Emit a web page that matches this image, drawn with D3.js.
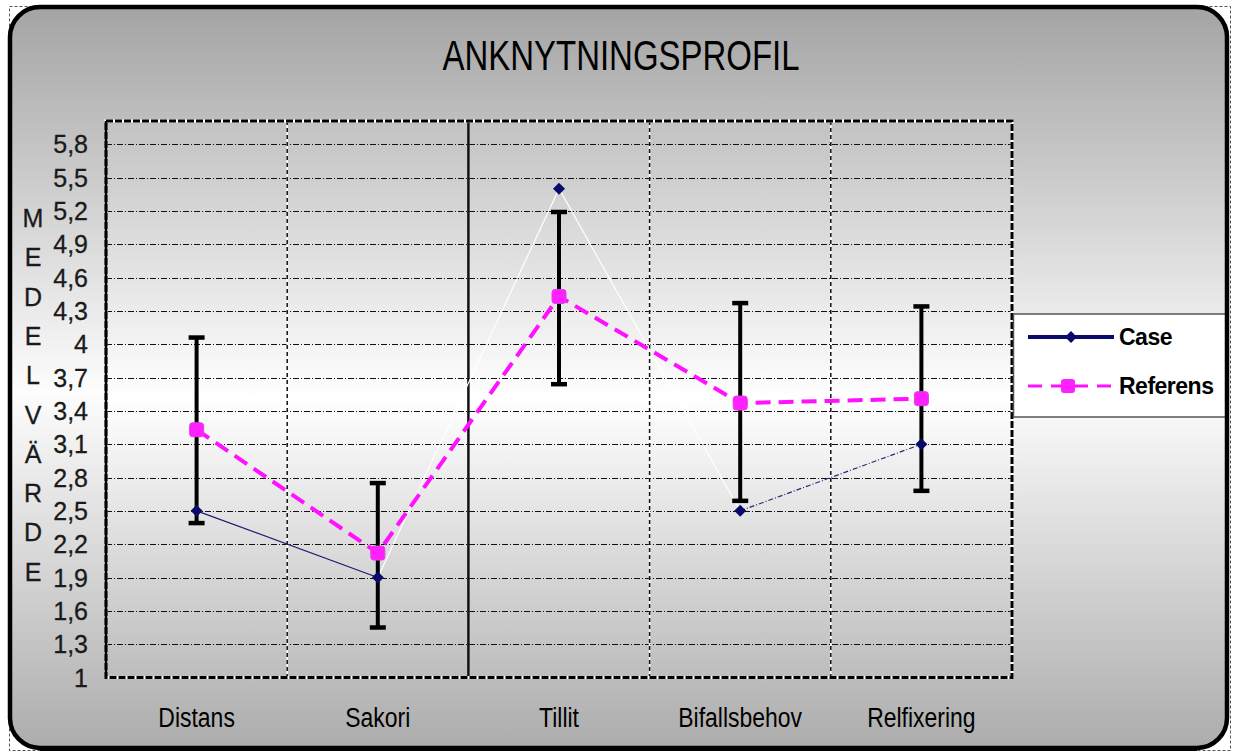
<!DOCTYPE html>
<html>
<head>
<meta charset="utf-8">
<script src="https://cdn.jsdelivr.net/npm/d3@7/dist/d3.min.js"></script>
<style>
  html, body { margin: 0; padding: 0; background: #ffffff; }
  svg { display: block; font-family: "Liberation Sans", Arial, sans-serif; }
</style>
</head>
<body>
<svg id="chart" width="1235" height="753"></svg>
<script>
// ---------- data ----------
const title = "ANKNYTNINGSPROFIL";
const yTitle = "MEDELVÄRDE";
const categories = ["Distans", "Sakori", "Tillit", "Bifallsbehov", "Relfixering"];
const caseValues = [2.5, 1.9, 5.4, 2.5, 3.1];
const referensValues = [3.23, 2.12, 4.43, 3.47, 3.51];
const errorLow = [2.39, 1.45, 3.64, 2.59, 2.68];
const errorHigh = [4.06, 2.75, 5.19, 4.37, 4.34];
const yTicks = [1, 1.3, 1.6, 1.9, 2.2, 2.5, 2.8, 3.1, 3.4, 3.7, 4, 4.3, 4.6, 4.9, 5.2, 5.5, 5.8];
const yTickLabels = ["1", "1,3", "1,6", "1,9", "2,2", "2,5", "2,8", "3,1", "3,4", "3,7", "4", "4,3", "4,6", "4,9", "5,2", "5,5", "5,8"];
const seriesNames = ["Case", "Referens"];

// ---------- layout ----------
const svg = d3.select("#chart");
const plot = { left: 106, right: 1012, top: 121, bottom: 677.5 };
const x = d3.scaleBand().domain(categories).range([plot.left, plot.right]);
const y = d3.scaleLinear().domain([1, 6]).range([plot.bottom, plot.top + 1]);
const cx = c => x(c) + x.bandwidth() / 2;

const defs = svg.append("defs");
const grad = defs.append("linearGradient").attr("id", "bg")
  .attr("gradientUnits", "userSpaceOnUse")
  .attr("x1", 0).attr("x2", 0).attr("y1", 7).attr("y2", 749);
grad.append("stop").attr("offset", 0).attr("stop-color", "#a4a4a4");
grad.append("stop").attr("offset", 0.52).attr("stop-color", "#fdfdfd");
grad.append("stop").attr("offset", 1).attr("stop-color", "#acacac");
const grad2 = defs.append("linearGradient").attr("id", "bg2")
  .attr("gradientUnits", "userSpaceOnUse")
  .attr("x1", 0).attr("x2", 0).attr("y1", plot.top).attr("y2", plot.bottom);
grad2.append("stop").attr("offset", 0).attr("stop-color", "#c2c2c2");
grad2.append("stop").attr("offset", 0.5).attr("stop-color", "#ffffff");
grad2.append("stop").attr("offset", 1).attr("stop-color", "#bdbdbd");

// selection outline
svg.append("rect").attr("x", 9.5).attr("y", 6.5).attr("width", 1221).attr("height", 744)
  .attr("fill", "none").attr("stroke", "#555").attr("stroke-width", 1).attr("stroke-dasharray", "3,2");

// frame fill
svg.append("rect").attr("x", 10).attr("y", 7).attr("width", 1217).attr("height", 741)
  .attr("rx", 30).attr("fill", "url(#bg)");

// plot background
svg.append("rect").attr("x", plot.left).attr("y", plot.top)
  .attr("width", plot.right - plot.left).attr("height", plot.bottom - plot.top)
  .attr("fill", "url(#bg2)");

// horizontal gridlines
svg.append("g").selectAll("line").data(yTicks.slice(1)).join("line")
  .attr("x1", plot.left).attr("x2", plot.right)
  .attr("y1", d => Math.round(y(d)) + 0.5).attr("y2", d => Math.round(y(d)) + 0.5)
  .attr("stroke", "#111").attr("stroke-width", 1).attr("stroke-dasharray", "6,2,1,2");

// vertical gridlines at category boundaries
const bounds = categories.slice(1).map(c => x(c));
const vg = svg.append("g");
vg.selectAll("line.w").data(bounds).join("line").attr("class", "w")
  .attr("x1", d => d).attr("x2", d => d).attr("y1", plot.top).attr("y2", plot.bottom)
  .attr("stroke", "#fff").attr("stroke-width", 1.5);
vg.selectAll("line.b").data(bounds).join("line").attr("class", "b")
  .attr("x1", d => d).attr("x2", d => d).attr("y1", plot.top).attr("y2", plot.bottom)
  .attr("stroke", "#111").attr("stroke-width", (d, i) => i === 1 ? 2.5 : 1.5)
  .attr("stroke-dasharray", (d, i) => i === 1 ? null : "4,3");

// plot border
svg.append("rect").attr("x", plot.left).attr("y", plot.top)
  .attr("width", plot.right - plot.left).attr("height", plot.bottom - plot.top)
  .attr("fill", "none").attr("stroke", "#fff").attr("stroke-width", 3);
svg.append("rect").attr("x", plot.left).attr("y", plot.top)
  .attr("width", plot.right - plot.left).attr("height", plot.bottom - plot.top)
  .attr("fill", "none").attr("stroke", "#000").attr("stroke-width", 3).attr("stroke-dasharray", "7,2");
svg.append("line").attr("x1", plot.left).attr("x2", plot.left).attr("y1", plot.top).attr("y2", plot.bottom)
  .attr("stroke", "#000").attr("stroke-width", 2.5);

// y tick labels
svg.append("g").selectAll("text").data(yTicks).join("text")
  .attr("x", 88).attr("y", d => y(d)).attr("dy", "0.36em")
  .attr("text-anchor", "end").attr("font-size", 25).attr("fill", "#1a1a1a")
  .attr("stroke", "#1a1a1a").attr("stroke-width", 0.3)
  .text((d, i) => yTickLabels[i]);

// y axis title (stacked letters)
const letters = Array.from(yTitle);
svg.append("g").selectAll("text").data(letters).join("text")
  .attr("x", 33).attr("y", (d, i) => 218 + i * 39.3).attr("dy", "0.36em")
  .attr("text-anchor", "middle").attr("font-size", 25).attr("fill", "#1a1a1a")
  .attr("stroke", "#1a1a1a").attr("stroke-width", 0.3)
  .text(d => d);

// title
svg.append("text").attr("x", 621).attr("y", 70).attr("text-anchor", "middle")
  .attr("font-size", 42).attr("fill", "#000")
  .attr("textLength", 357).attr("lengthAdjust", "spacingAndGlyphs")
  .text(title);

// category labels
svg.append("g").selectAll("text").data(categories).join("text")
  .attr("x", d => cx(d)).attr("y", 727).attr("text-anchor", "middle")
  .attr("font-size", 27).attr("fill", "#000")
  .text(d => d)
  .each(function () {
    const w = this.getComputedTextLength();
    d3.select(this).attr("textLength", w * 0.85).attr("lengthAdjust", "spacingAndGlyphs");
  });

// Case line (thin), segment colours
const caseSegColors = ["#1b1b6e", "#ffffff", "#ffffff", "#2a2a78"];
const casePts = categories.map((c, i) => [cx(c), y(caseValues[i])]);
svg.append("g").selectAll("line").data(casePts.slice(1)).join("line")
  .attr("x1", (d, i) => casePts[i][0]).attr("y1", (d, i) => casePts[i][1])
  .attr("x2", d => d[0]).attr("y2", d => d[1])
  .attr("stroke", (d, i) => caseSegColors[i]).attr("stroke-width", 1.2)
  .attr("stroke-dasharray", (d, i) => i === 3 ? "5,2,1,2" : null);

// error bars
const eb = svg.append("g");
eb.selectAll("line.v").data(categories).join("line").attr("class", "v")
  .attr("x1", d => cx(d)).attr("x2", d => cx(d))
  .attr("y1", (d, i) => y(errorLow[i])).attr("y2", (d, i) => y(errorHigh[i]))
  .attr("stroke", "#000").attr("stroke-width", 4);
[errorLow, errorHigh].forEach(arr => {
  eb.append("g").selectAll("line").data(categories).join("line")
    .attr("x1", d => cx(d) - 8).attr("x2", d => cx(d) + 8)
    .attr("y1", (d, i) => y(arr[i])).attr("y2", (d, i) => y(arr[i]))
    .attr("stroke", "#000").attr("stroke-width", 4.5);
});

// Referens line
const line = d3.line().x((d, i) => cx(categories[i])).y(d => y(d));
svg.append("path").datum(referensValues).attr("d", line)
  .attr("fill", "none").attr("stroke", "#ff10ff").attr("stroke-width", 4)
  .attr("stroke-dasharray", "15,8");

// markers
const diamond = d3.symbol().type(d3.symbolSquare).size(72);
svg.append("g").selectAll("path").data(caseValues).join("path")
  .attr("d", diamond).attr("transform", (d, i) => `translate(${cx(categories[i])},${y(d)}) rotate(45)`)
  .attr("fill", "#0a0a6a");
svg.append("g").selectAll("rect").data(referensValues).join("rect")
  .attr("x", (d, i) => cx(categories[i]) - 7).attr("y", d => y(d) - 7)
  .attr("width", 14).attr("height", 14).attr("rx", 3)
  .attr("fill", "#ff20ff").attr("stroke", "#e040e0").attr("stroke-width", 1);

// legend
const lg = svg.append("g");
lg.append("rect").attr("x", 1013.5).attr("y", 314).attr("width", 214).attr("height", 103)
  .attr("fill", "#fff").attr("stroke", "#555").attr("stroke-width", 1.5);
const legendY = [337, 386];
lg.append("line").attr("x1", 1028).attr("x2", 1114).attr("y1", legendY[0]).attr("y2", legendY[0])
  .attr("stroke", "#0a0a6a").attr("stroke-width", 4);
lg.append("path").attr("d", diamond).attr("transform", `translate(1071,${legendY[0]}) rotate(45)`).attr("fill", "#0a0a6a");
lg.append("line").attr("x1", 1028).attr("x2", 1114).attr("y1", legendY[1]).attr("y2", legendY[1])
  .attr("stroke", "#ff10ff").attr("stroke-width", 3).attr("stroke-dasharray", "14,9");
lg.append("rect").attr("x", 1061).attr("y", legendY[1] - 7).attr("width", 14).attr("height", 14).attr("rx", 3)
  .attr("fill", "#ff20ff");
lg.selectAll("text").data(seriesNames).join("text")
  .attr("x", 1119).attr("y", (d, i) => legendY[i]).attr("dy", "0.36em")
  .attr("font-size", 23).attr("font-weight", "bold").attr("fill", "#000")
  .attr("letter-spacing", -0.5)
  .text(d => d);

// frame border
svg.append("rect").attr("x", 10).attr("y", 7).attr("width", 1217).attr("height", 741)
  .attr("rx", 30).attr("fill", "none").attr("stroke", "#000").attr("stroke-width", 4.5);
svg.append("line").attr("x1", 40).attr("x2", 1197).attr("y1", 749).attr("y2", 749)
  .attr("stroke", "#000").attr("stroke-width", 4);
</script>
</body>
</html>
